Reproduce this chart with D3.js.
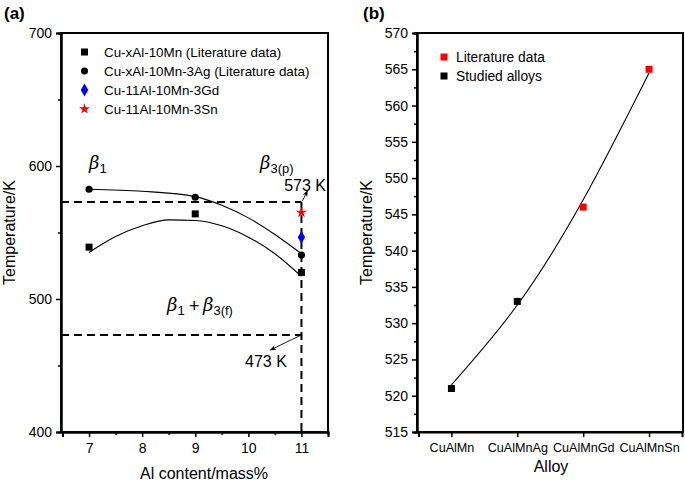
<!DOCTYPE html>
<html>
<head>
<meta charset="utf-8">
<script src="https://cdn.jsdelivr.net/npm/d3@7"></script>
<style>
  body { margin: 0; background: #fff; }
  svg { font-family: "Liberation Sans", Arial, sans-serif; }
</style>
</head>
<body>
<svg id="chart" width="685" height="483"></svg>
<script>
// ---- data, panel (a) ----
const alContent = [7, 9, 11];
const tMn = [539, 564, 520];          // Cu-xAl-10Mn (literature)
const tMnAg = [582.5, 576.5, 533];    // Cu-xAl-10Mn-3Ag (literature)
const tGd = [[11, 546.5]];
const tSn = [[11, 565]];
// fitted curves
const fitMn = [[7, 535], [7.5, 547], [8, 555], [8.5, 559.5], [9, 559], [9.5, 555], [10, 546.5], [10.5, 534], [11, 517]];
const fitMnAg = [[7, 582.5], [8, 581], [9, 577], [9.5, 570.5], [10, 561], [10.5, 548.5], [11, 534]];
const levels = [573, 473];
const legendA = ["Cu-xAl-10Mn (Literature data)", "Cu-xAl-10Mn-3Ag (Literature data)", "Cu-11Al-10Mn-3Gd", "Cu-11Al-10Mn-3Sn"];

// ---- data, panel (b) ----
const alloys = ["CuAlMn", "CuAlMnAg", "CuAlMnGd", "CuAlMnSn"];
const alloyTemp = [521, 533, 546, 565];
const alloyColor = ["#000", "#000", "#ff0000", "#ff0000"];
const fitB = [[1, 521.5], [2, 532.5], [3, 547], [4, 564.5]];
const legendB = [["Literature data", "#ff0000"], ["Studied alloys", "#000"]];

const svg = d3.select("#chart");
const greek = "'DejaVu Serif', serif";

// ================= panel (a) =================
const A = { left: 61, right: 328, top: 33, bottom: 432 };
const xA = d3.scaleLinear().domain([6.5, 11.5]).range([A.left + 1.5, A.right]);
const yA = d3.scaleLinear().domain([400, 700]).range([A.bottom, A.top]);

const ga = svg.append("g");

// frame
ga.append("rect")
  .attr("x", A.left).attr("y", A.top)
  .attr("width", A.right - A.left).attr("height", A.bottom - A.top)
  .attr("fill", "none").attr("stroke", "#000").attr("stroke-width", 2);

// axes
ga.append("g").attr("transform", `translate(0,${A.bottom})`)
  .call(d3.axisBottom(xA).tickValues([7, 8, 9, 10, 11]).tickSize(5).tickPadding(6).tickFormat(d3.format("d")));
ga.append("g").attr("transform", `translate(0,${A.bottom})`)
  .call(d3.axisBottom(xA).tickValues([7.5, 8.5, 9.5, 10.5]).tickSize(3).tickFormat(""));
ga.append("g").attr("transform", `translate(${A.left},0)`)
  .call(d3.axisLeft(yA).tickValues([400, 500, 600, 700]).tickSize(5).tickPadding(4).tickFormat(d3.format("d")));
ga.append("g").attr("transform", `translate(${A.left},0)`)
  .call(d3.axisLeft(yA).tickValues([450, 550, 650]).tickSize(3).tickFormat(""));

// dashed guide lines
ga.selectAll("line.lvl").data(levels).enter().append("line")
  .attr("x1", xA(6.5) - 1.5).attr("x2", xA(11))
  .attr("y1", d => yA(d)).attr("y2", d => yA(d))
  .attr("stroke", "#000").attr("stroke-width", 2).attr("stroke-dasharray", "8,5");
ga.append("line")
  .attr("x1", xA(11)).attr("x2", xA(11))
  .attr("y1", yA(573)).attr("y2", yA(400))
  .attr("stroke", "#000").attr("stroke-width", 2).attr("stroke-dasharray", "8,5");

// fitted curves
const lineA = d3.line().x(d => xA(d[0])).y(d => yA(d[1])).curve(d3.curveMonotoneX);
ga.append("path").datum(fitMn).attr("d", lineA)
  .attr("fill", "none").attr("stroke", "#000").attr("stroke-width", 1.1);
ga.append("path").datum(fitMnAg).attr("d", lineA)
  .attr("fill", "none").attr("stroke", "#000").attr("stroke-width", 1.1);

// markers
ga.selectAll("rect.sq").data(alContent).enter().append("rect")
  .attr("x", (d) => xA(d) - 3.5).attr("y", (d, i) => yA(tMn[i]) - 3.5)
  .attr("width", 7).attr("height", 7).attr("fill", "#000");
ga.selectAll("circle.ci").data(alContent).enter().append("circle")
  .attr("cx", d => xA(d)).attr("cy", (d, i) => yA(tMnAg[i]))
  .attr("r", 3.6).attr("fill", "#000");
ga.selectAll("path.gd").data(tGd).enter().append("path")
  .attr("d", d3.symbol(d3.symbolDiamond, 48))
  .attr("transform", d => `translate(${xA(d[0])},${yA(d[1])})`)
  .attr("fill", "#0000ff");
ga.selectAll("path.sn").data(tSn).enter().append("path")
  .attr("d", d3.symbol(d3.symbolStar, 36))
  .attr("transform", d => `translate(${xA(d[0])},${yA(d[1])})`)
  .attr("fill", "#ff0000");

// arrows
const defs = svg.append("defs");
defs.append("marker").attr("id", "arr")
  .attr("viewBox", "0 0 10 10").attr("refX", 9).attr("refY", 5)
  .attr("markerWidth", 7).attr("markerHeight", 7).attr("orient", "auto-start-reverse")
  .append("path").attr("d", "M0,1 L10,5 L0,9 L3,5 Z").attr("fill", "#000");

ga.append("line")
  .attr("x1", xA(11) + 1).attr("y1", yA(573) - 1)
  .attr("x2", xA(11) + 6).attr("y2", yA(573) - 11)
  .attr("stroke", "#000").attr("stroke-width", 0.9).attr("marker-end", "url(#arr)");
ga.append("line")
  .attr("x1", xA(11)).attr("y1", yA(473))
  .attr("x2", xA(11) - 31).attr("y2", yA(473) + 15)
  .attr("stroke", "#000").attr("stroke-width", 0.9).attr("marker-end", "url(#arr)");

ga.append("text").attr("x", 326).attr("y", 191).attr("text-anchor", "end")
  .attr("font-size", 16).text("573 K");
ga.append("text").attr("x", 245).attr("y", 367)
  .attr("font-size", 16).text("473 K");

// phase labels
function beta(x, y, sub) {
  const t = ga.append("text").attr("x", x).attr("y", y);
  t.append("tspan").attr("font-family", greek).attr("font-style", "italic")
    .attr("font-size", 18).text("β");
  t.append("tspan").attr("font-size", 13).attr("dy", 4).text(sub);
}
beta(89, 169, "1");
beta(260, 169, "3(p)");
beta(167, 311, "1");
ga.append("text").attr("x", 189).attr("y", 312).attr("font-size", 18).text("+");
beta(203, 311, "3(f)");

// legend (a)
const legA = ga.append("g");
const legRows = legendA.map((t, i) => ({ t, y: 52 + i * 19 }));
legA.selectAll("text").data(legRows).enter().append("text")
  .attr("x", 104).attr("y", d => d.y + 4.5).attr("font-size", 13.4).text(d => d.t);
legA.append("rect").attr("x", 81).attr("y", 52 - 3.5).attr("width", 7).attr("height", 7).attr("fill", "#000");
legA.append("circle").attr("cx", 84.5).attr("cy", 71).attr("r", 3.5).attr("fill", "#000");
legA.append("path").attr("d", d3.symbol(d3.symbolDiamond, 48)).attr("transform", "translate(84.5,90)").attr("fill", "#0000ff");
legA.append("path").attr("d", d3.symbol(d3.symbolStar, 36)).attr("transform", "translate(84.5,109)").attr("fill", "#ff0000");

// titles
ga.append("text").attr("x", 4).attr("y", 19).attr("font-size", 17).attr("font-weight", "bold").text("(a)");
ga.append("text").attr("transform", `translate(15,${(A.top + A.bottom) / 2}) rotate(-90)`)
  .attr("text-anchor", "middle").attr("font-size", 16).text("Temperature/K");
ga.append("text").attr("x", 204).attr("y", 479)
  .attr("text-anchor", "middle").attr("font-size", 16).text("Al content/mass%");

// ================= panel (b) =================
const B = { left: 417, right: 683, top: 33, bottom: 432 };
const xB = d3.scaleLinear().domain([0.5, 4.5]).range([B.left + 1.5, B.right - 1]);
const yB = d3.scaleLinear().domain([515, 570]).range([B.bottom, B.top]);
const gb = svg.append("g");

gb.append("rect")
  .attr("x", B.left).attr("y", B.top)
  .attr("width", B.right - B.left).attr("height", B.bottom - B.top)
  .attr("fill", "none").attr("stroke", "#000").attr("stroke-width", 2);

const xAxisB = gb.append("g").attr("transform", `translate(0,${B.bottom})`)
  .call(d3.axisBottom(xB).tickValues([1, 2, 3, 4]).tickSize(5).tickPadding(6).tickFormat(i => alloys[i - 1]));
gb.append("g").attr("transform", `translate(${B.left},0)`)
  .call(d3.axisLeft(yB).tickValues(d3.range(515, 571, 5)).tickSize(5).tickPadding(4).tickFormat(d3.format("d")));
gb.append("g").attr("transform", `translate(${B.left},0)`)
  .call(d3.axisLeft(yB).tickValues(d3.range(517.5, 570, 5)).tickSize(3).tickFormat(""));

const lineB = d3.line().x(d => xB(d[0])).y(d => yB(d[1])).curve(d3.curveNatural);
gb.append("path").datum(fitB).attr("d", lineB)
  .attr("fill", "none").attr("stroke", "#000").attr("stroke-width", 1.1);

gb.selectAll("rect.pt").data(alloyTemp).enter().append("rect")
  .attr("x", (d, i) => xB(i + 1) - 3.5).attr("y", d => yB(d) - 3.5)
  .attr("width", 7).attr("height", 7).attr("fill", (d, i) => alloyColor[i]);

const legB = gb.selectAll("g.leg").data(legendB).enter().append("g")
  .attr("transform", (d, i) => `translate(444,${57 + i * 19})`);
legB.append("rect").attr("x", -3.5).attr("y", -3.5).attr("width", 7).attr("height", 7).attr("fill", d => d[1]);
legB.append("text").attr("x", 12).attr("y", 5).attr("font-size", 13.8).text(d => d[0]);

gb.append("text").attr("x", 363).attr("y", 19).attr("font-size", 17).attr("font-weight", "bold").text("(b)");
gb.append("text").attr("transform", `translate(372,${(B.top + B.bottom) / 2}) rotate(-90)`)
  .attr("text-anchor", "middle").attr("font-size", 16).text("Temperature/K");
gb.append("text").attr("x", 551).attr("y", 472)
  .attr("text-anchor", "middle").attr("font-size", 16).text("Alloy");

// common axis styling
svg.selectAll(".domain").attr("stroke-width", 2);
svg.selectAll(".tick line").attr("stroke-width", 1.5);
svg.selectAll(".tick text").attr("font-size", 14).attr("fill", "#000")
  .attr("font-family", "'Liberation Sans', Arial, sans-serif");
xAxisB.selectAll(".tick text").attr("font-size", 12.6);
</script>
</body>
</html>
